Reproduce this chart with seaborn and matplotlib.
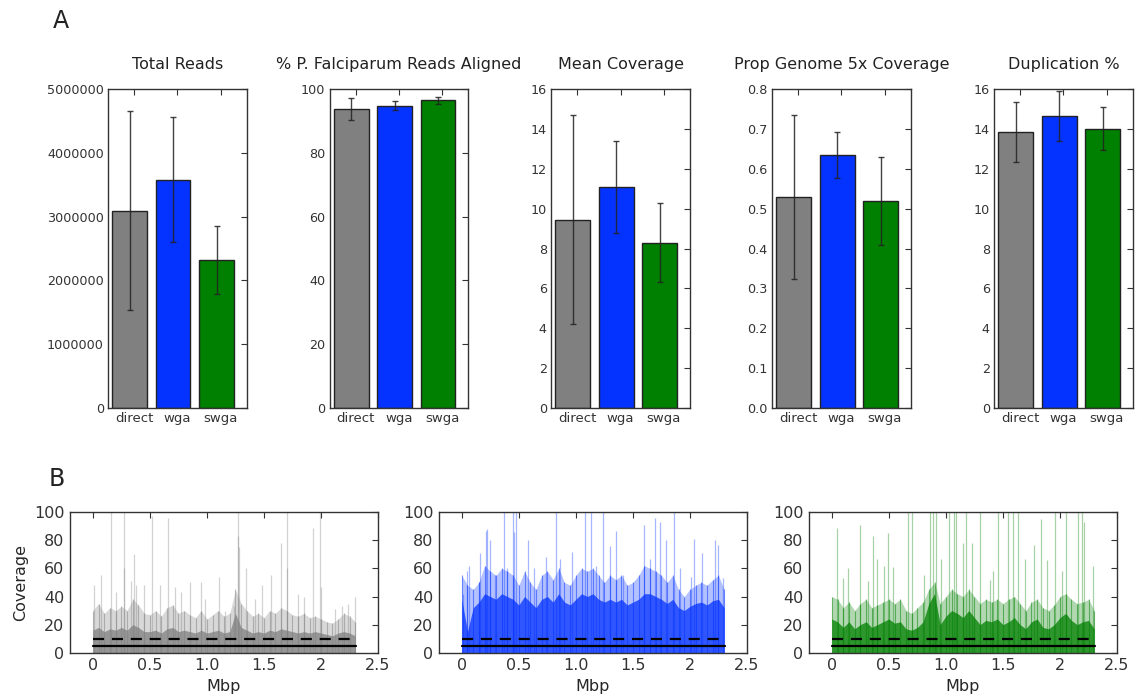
import numpy as np
import pandas as pd
import matplotlib
matplotlib.use("Agg")
import matplotlib.pyplot as plt
import seaborn as sns

# ---------------- data: panel A ----------------
groups = ["direct", "wga", "swga"]
bar_colors = ["#808080", "#0433ff", "#008000"]

total_reads_mean = [3090000, 3574000, 2320000]
total_reads_sd = [1560000, 980000, 530000]
pct_aligned_mean = [93.7, 94.7, 96.5]
pct_aligned_sd = [3.4, 1.45, 1.1]
mean_cov_mean = [9.44, 11.07, 8.30]
mean_cov_sd = [5.24, 2.30, 1.96]
prop5x_mean = [0.529, 0.635, 0.519]
prop5x_sd = [0.206, 0.058, 0.110]
dup_mean = [13.82, 14.65, 14.00]
dup_sd = [1.50, 1.25, 1.08]

titles_a = ["Total Reads", "% P. Falciparum Reads Aligned", "Mean Coverage",
            "Prop Genome 5x Coverage", "Duplication %"]
yticks_a = [
    [0, 1000000, 2000000, 3000000, 4000000, 5000000],
    [0, 20, 40, 60, 80, 100],
    [0, 2, 4, 6, 8, 10, 12, 14, 16],
    [0.0, 0.1, 0.2, 0.3, 0.4, 0.5, 0.6, 0.7, 0.8],
    [0, 2, 4, 6, 8, 10, 12, 14, 16],
]
yticklabels_a = [
    ["0", "1000000", "2000000", "3000000", "4000000", "5000000"],
    ["0", "20", "40", "60", "80", "100"],
    ["0", "2", "4", "6", "8", "10", "12", "14", "16"],
    ["0.0", "0.1", "0.2", "0.3", "0.4", "0.5", "0.6", "0.7", "0.8"],
    ["0", "2", "4", "6", "8", "10", "12", "14", "16"],
]

# ---------------- data: panel B ----------------
bin_mbp = np.round(np.arange(0.0, 2.301, 0.05), 2)  # 47 bin centres (Mbp)

direct_outer = [30, 35, 28, 32, 30, 33, 30, 38, 34, 28, 27, 30, 26, 32, 34, 28,
                30, 27, 25, 30, 24, 27, 30, 26, 28, 45, 35, 30, 26, 28, 25, 30,
                28, 32, 30, 27, 26, 28, 25, 26, 24, 22, 21, 24, 28, 26, 22]
direct_core = [16, 18, 15, 17, 16, 18, 16, 20, 18, 15, 15, 16, 14, 17, 18, 15,
               16, 15, 14, 16, 14, 15, 16, 14, 15, 28, 18, 16, 14, 15, 14, 16,
               15, 17, 16, 15, 14, 15, 14, 15, 14, 13, 12, 14, 15, 14, 12]
direct_spike_x = [0.006, 0.067, 0.16, 0.205, 0.27, 0.275, 0.33, 0.365, 0.38, 0.45,
                  0.52, 0.59, 0.66, 0.72, 0.77, 0.85, 0.95, 0.98, 1.11, 1.155,
                  1.24, 1.27, 1.275, 1.285, 1.34, 1.42, 1.48, 1.56, 1.646, 1.70,
                  1.705, 1.80, 1.85, 1.93, 1.995, 2.0, 2.12, 2.18, 2.24, 2.30]
direct_spike_y = [48, 55, 100, 43, 100, 60, 51, 70, 48, 48,
                  97, 48, 96, 47, 43, 50, 50, 38, 54, 30,
                  33, 100, 83, 75, 60, 38, 48, 55, 78, 100,
                  60, 42, 40, 89, 100, 47, 31, 33, 35, 40]

wga_outer = [55, 48, 45, 50, 62, 58, 55, 60, 58, 55, 48, 58, 50, 45, 55, 58,
             52, 60, 50, 48, 55, 60, 58, 60, 55, 50, 55, 52, 55, 48, 50, 55,
             62, 60, 58, 55, 50, 55, 45, 40, 45, 48, 50, 48, 52, 55, 45]
wga_core = [38, 15, 32, 36, 42, 40, 38, 42, 40, 38, 34, 40, 36, 32, 38, 40,
            36, 42, 36, 34, 38, 42, 40, 42, 38, 36, 38, 36, 38, 34, 36, 38,
            42, 42, 40, 38, 35, 38, 32, 30, 33, 35, 36, 34, 37, 38, 32]
wga_spike_x = [0.015, 0.05, 0.067, 0.15, 0.16, 0.21, 0.225, 0.25, 0.29, 0.37,
               0.395, 0.45, 0.455, 0.475, 0.58, 0.63, 0.74, 0.83, 0.86, 0.97,
               1.08, 1.13, 1.18, 1.24, 1.30, 1.35, 1.41, 1.60, 1.65, 1.69,
               1.74, 1.79, 1.86, 1.91, 2.01, 2.04, 2.11, 2.22, 2.25, 2.29]
wga_spike_y = [42, 58, 62, 50, 71, 87, 88, 80, 55, 100,
               60, 100, 86, 100, 80, 60, 68, 100, 67, 72,
               100, 100, 62, 100, 76, 87, 55, 91, 67, 96,
               93, 80, 100, 60, 54, 81, 71, 80, 77, 53]

swga_outer = [40, 38, 32, 36, 30, 35, 38, 32, 34, 36, 38, 35, 38, 30, 28, 32,
              36, 45, 50, 35, 40, 45, 42, 40, 45, 40, 35, 38, 36, 38, 35, 38,
              40, 35, 30, 36, 38, 32, 30, 34, 40, 42, 38, 35, 36, 38, 30]
swga_core = [24, 22, 18, 22, 17, 20, 22, 18, 20, 22, 24, 21, 22, 17, 16, 18,
             22, 35, 42, 20, 26, 30, 28, 25, 30, 25, 20, 23, 22, 24, 20, 22,
             25, 20, 17, 22, 24, 18, 17, 20, 25, 28, 23, 20, 22, 23, 17]
swga_spike_x = [0.044, 0.10, 0.14, 0.25, 0.32, 0.36, 0.40, 0.46, 0.49, 0.54,
                0.67, 0.70, 0.81, 0.86, 0.89, 0.91, 0.96, 1.03, 1.07, 1.09,
                1.15, 1.18, 1.23, 1.30, 1.39, 1.41, 1.46, 1.54, 1.59, 1.63,
                1.69, 1.77, 1.83, 1.89, 1.96, 2.02, 2.05, 2.16, 2.19, 2.21, 2.29]
swga_spike_y = [89, 53, 60, 91, 51, 83, 67, 62, 85, 61,
                100, 100, 55, 100, 100, 100, 67, 100, 100, 100,
                78, 100, 78, 100, 52, 58, 100, 100, 100, 100,
                67, 77, 95, 66, 100, 58, 100, 100, 100, 93, 62]

cov_ticks = [0, 0.5, 1.0, 1.5, 2.0, 2.5]
cov_ticklabels = ["0", "0.5", "1.0", "1.5", "2", "2.5"]
genome_end = 2.31
line_5x = 5
line_10x = 10

# ---------------- style ----------------
sns.set_theme(style="white")
plt.rcParams["font.family"] = ["DejaVu Sans"]
plt.rcParams["axes.edgecolor"] = "#333333"
plt.rcParams["axes.linewidth"] = 1.0
plt.rcParams["text.color"] = "#222222"
plt.rcParams["xtick.color"] = "#333333"
plt.rcParams["ytick.color"] = "#333333"

fig = plt.figure(figsize=(11.39, 7.0), dpi=100)

# ---------------- panel A ----------------
a_lefts = [0.0948, 0.2893, 0.4838, 0.6778, 0.8727]
a_w, a_b, a_h = 0.122, 0.417, 0.456
means_list = [total_reads_mean, pct_aligned_mean, mean_cov_mean, prop5x_mean, dup_mean]
sds_list = [total_reads_sd, pct_aligned_sd, mean_cov_sd, prop5x_sd, dup_sd]

for i in range(5):
    ax = fig.add_axes([a_lefts[i], a_b, a_w, a_h])
    df = pd.DataFrame({"group": groups, "value": means_list[i]})
    sns.barplot(data=df, x="group", y="value", hue="group", palette=bar_colors,
                order=groups, hue_order=groups, errorbar=None, width=0.8,
                saturation=1, edgecolor="#222222", linewidth=1.0, legend=False,
                ax=ax)
    ax.errorbar([0, 1, 2], means_list[i], yerr=sds_list[i], fmt="none",
                ecolor="#222222", elinewidth=1.0, capsize=2.5, capthick=1.0,
                alpha=0.85, zorder=5)
    ax.set_xlim(-0.5, 2.7)
    ax.set_ylim(yticks_a[i][0], yticks_a[i][-1])
    ax.set_xticks([0.1, 1.1, 2.1])
    ax.set_xticklabels(groups, fontsize=9.5)
    ax.set_yticks(yticks_a[i])
    ax.set_yticklabels(yticklabels_a[i], fontsize=9.2)
    ax.set_xlabel("")
    ax.set_ylabel("")
    ax.set_title(titles_a[i], fontsize=11.5, pad=14)
    ax.tick_params(direction="in", top=True, right=True, length=4, width=0.8,
                   pad=3)
    for s in ax.spines.values():
        s.set_visible(True)

# ---------------- panel B ----------------
b_lefts = [0.0615, 0.3854, 0.7103]
b_w, b_b, b_h = 0.2704, 0.0676, 0.2006
outers = [direct_outer, wga_outer, swga_outer]
cores = [direct_core, wga_core, swga_core]
sx = [direct_spike_x, wga_spike_x, swga_spike_x]
sy = [direct_spike_y, wga_spike_y, swga_spike_y]

for i in range(3):
    ax = fig.add_axes([b_lefts[i], b_b, b_w, b_h])
    c = bar_colors[i]
    ax.fill_between(bin_mbp, 0, outers[i], color=c, alpha=0.3, lw=0)
    ax.fill_between(bin_mbp, 0, cores[i], color=c, alpha=0.75, lw=0)
    ax.vlines(bin_mbp, 0, outers[i], color=c, alpha=0.5, lw=0.8)
    ax.vlines(sx[i], 0, sy[i], color=c, alpha=0.35, lw=0.9)
    sns.lineplot(x=[0, genome_end], y=[line_5x, line_5x], color="black",
                 lw=1.6, ax=ax)
    sns.lineplot(x=[0, genome_end], y=[line_10x, line_10x], color="black",
                 lw=1.6, ax=ax)
    ax.lines[-1].set_linestyle((0, (5, 3.5)))
    ax.set_xlim(-0.2, 2.5)
    ax.set_ylim(0, 100)
    ax.set_xticks(cov_ticks)
    ax.set_xticklabels(cov_ticklabels, fontsize=11.5)
    ax.set_yticks([0, 20, 40, 60, 80, 100])
    ax.set_yticklabels(["0", "20", "40", "60", "80", "100"], fontsize=11.5)
    ax.set_xlabel("Mbp", fontsize=11.5)
    ax.set_ylabel("Coverage" if i == 0 else "", fontsize=11.5)
    ax.tick_params(direction="in", top=True, right=True, length=4, width=0.8,
                   pad=4)
    for s in ax.spines.values():
        s.set_visible(True)

fig.text(0.046, 0.97, "A", fontsize=17, ha="left", va="center")
fig.text(0.043, 0.316, "B", fontsize=17, ha="left", va="center")

fig.savefig("out.png", dpi=100)
